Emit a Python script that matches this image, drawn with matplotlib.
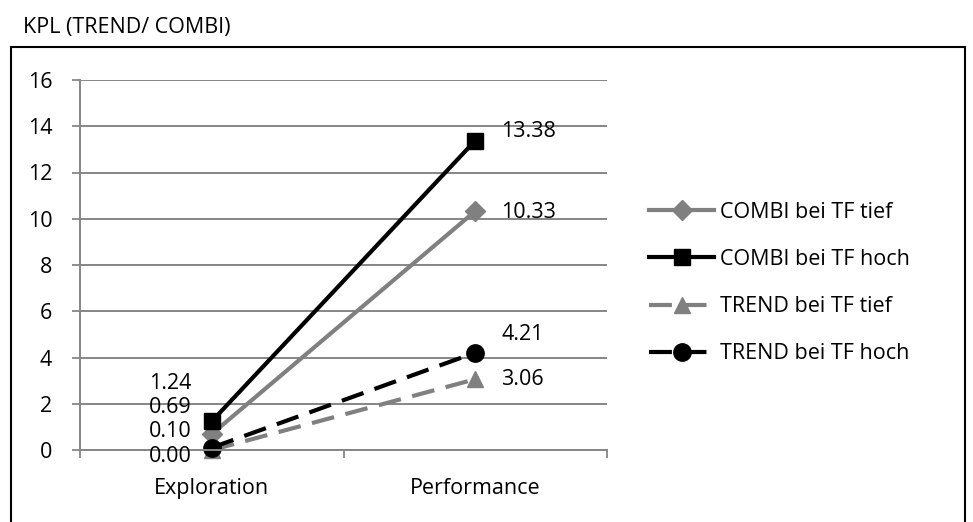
import matplotlib
matplotlib.use('Agg')
import matplotlib.pyplot as plt
from matplotlib.patches import Rectangle

plt.rcParams['font.family'] = ['Open Sans', 'DejaVu Sans']

categories = ['Exploration', 'Performance']
series_names = ['COMBI bei TF tief', 'COMBI bei TF hoch', 'TREND bei TF tief', 'TREND bei TF hoch']
combi_tief = [0.69, 10.33]
combi_hoch = [1.24, 13.38]
trend_tief = [0.00, 3.06]
trend_hoch = [0.10, 4.21]
y_ticks = [0, 2, 4, 6, 8, 10, 12, 14, 16]

FS = 15.5
dash = (0, (5.5, 2.8))
styles = [
    dict(color='#808080', linestyle='-', marker='D', markersize=10),
    dict(color='black', linestyle='-', marker='s', markersize=12),
    dict(color='#808080', linestyle=dash, marker='^', markersize=12),
    dict(color='black', linestyle=dash, marker='o', markersize=12.5),
]
all_series = [combi_tief, combi_hoch, trend_tief, trend_hoch]

# label offsets in pixels (left point, right point)
left_offsets = [(-20, 27), (-20, 38), (-20, -7), (-20, 16)]
right_offsets = [(26, -1), (26, 9), (26, 0), (26, 18)]

fig = plt.figure(figsize=(9.73, 5.22), dpi=100)
ax = fig.add_axes([80 / 973, (522 - 450) / 522, (607 - 80) / 973, (450 - 80) / 522])

x = [0.5, 1.5]
for vals, name, st, lo, ro in zip(all_series, series_names, styles, left_offsets, right_offsets):
    ax.plot(x, vals, label=name, linewidth=3, clip_on=False, **st)
    ax.annotate(f'{vals[0]:.2f}', (x[0], vals[0]), xytext=lo, textcoords='offset pixels',
                ha='right', va='center', fontsize=FS)
    ax.annotate(f'{vals[1]:.2f}', (x[1], vals[1]), xytext=ro, textcoords='offset pixels',
                ha='left', va='center', fontsize=FS)

ax.set_xlim(0, 2)
ax.set_ylim(0, 16)
ax.set_yticks(y_ticks)
ax.set_yticklabels([str(t) for t in y_ticks], fontsize=FS)
ax.set_xticks(x)
ax.set_xticklabels(categories, fontsize=FS)
ax.set_xticks([0, 1, 2], minor=True)
ax.tick_params(axis='x', which='major', length=0, pad=20)
ax.tick_params(axis='x', which='minor', length=6, color='#868686', width=1.3)
ax.tick_params(axis='y', length=6, color='#868686', width=1.3, pad=14)
ax.grid(axis='y', color='#868686', linewidth=1.4)
ax.set_axisbelow(True)
for s in ['top', 'right']:
    ax.spines[s].set_visible(False)
for s in ['left', 'bottom']:
    ax.spines[s].set_color('#868686')
    ax.spines[s].set_linewidth(1.4)

fig.legend(loc='center left', bbox_to_anchor=(630 / 973, 1 - 283 / 522), frameon=False,
           fontsize=FS, handlelength=3.0, labelspacing=1.22, handletextpad=0.3)

fig.text(23 / 973, 1 - 28 / 522, 'KPL (TREND/ COMBI)', fontsize=FS, va='center', ha='left')
fig.patches.append(Rectangle((11 / 973, -0.05), 954 / 973, 1.05 - 47 / 522,
                             transform=fig.transFigure, fill=False, edgecolor='black', linewidth=1.5))

fig.savefig('out.png', dpi=100)
